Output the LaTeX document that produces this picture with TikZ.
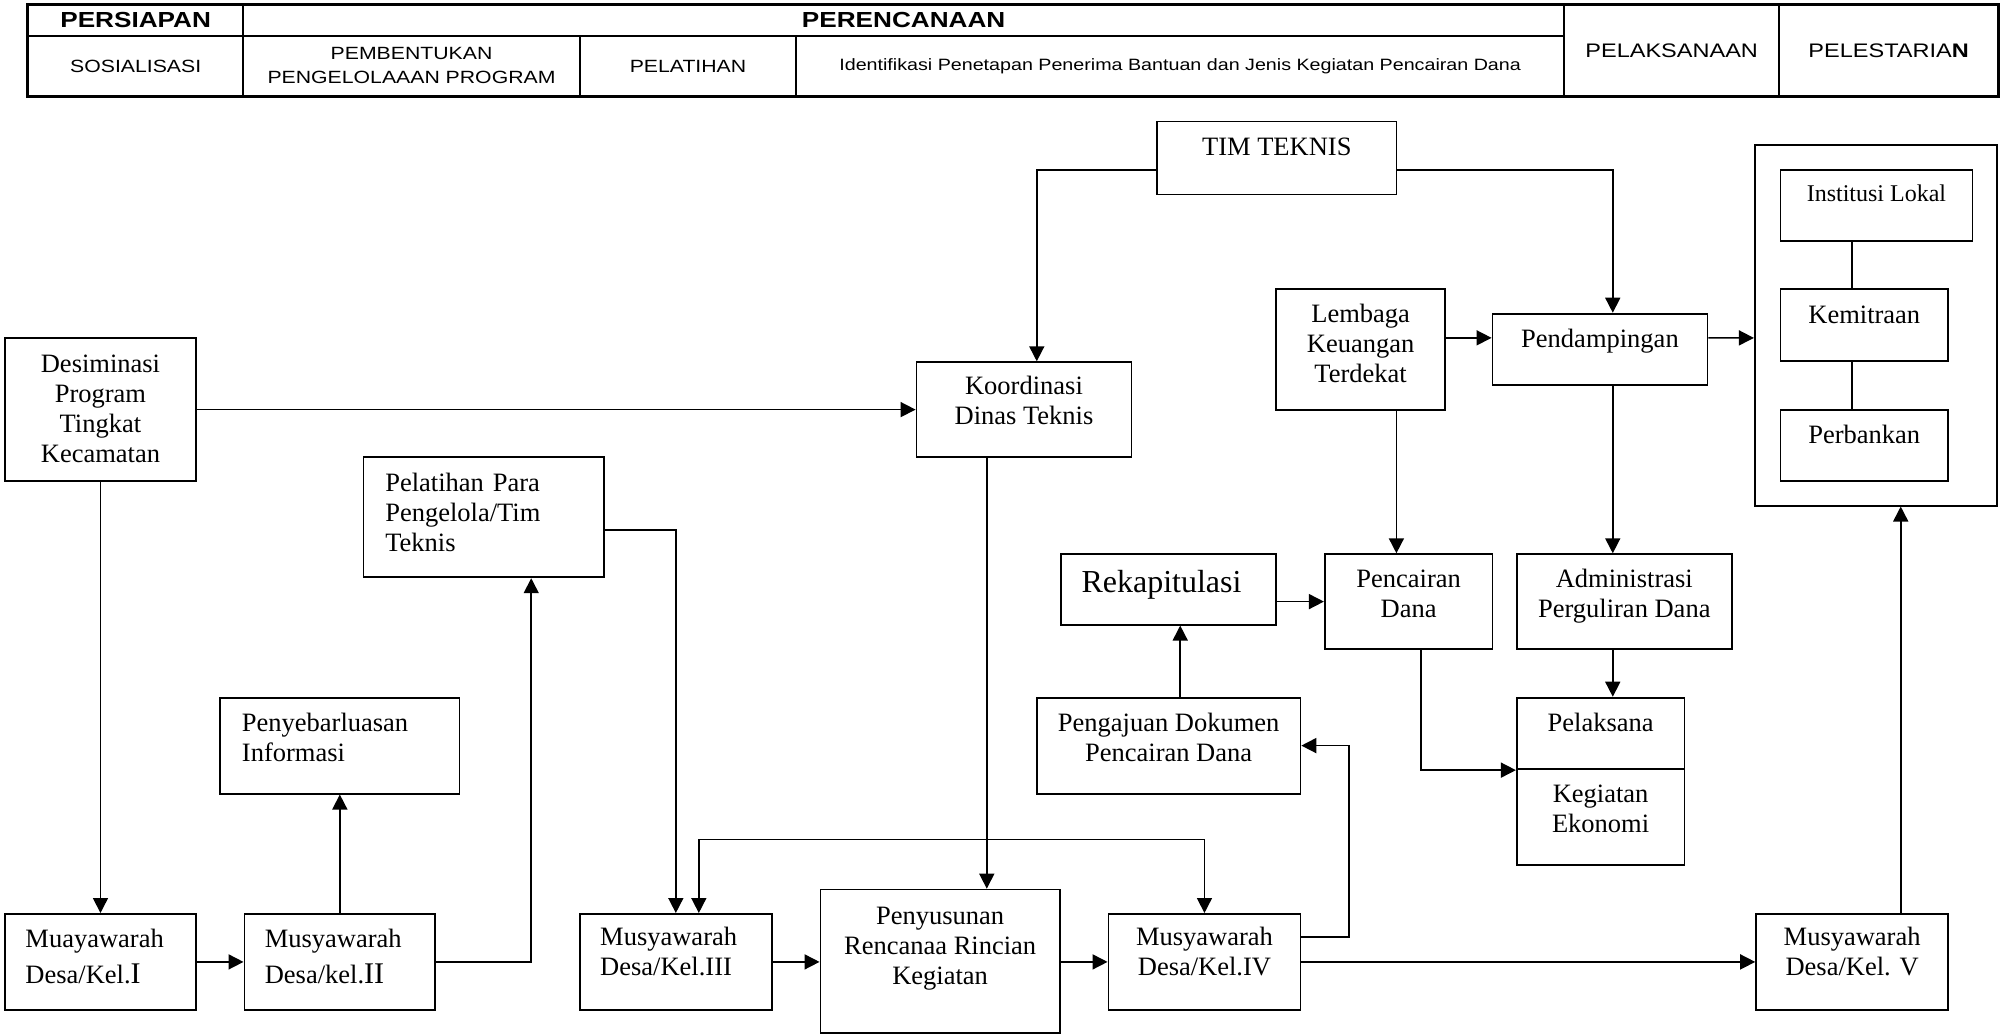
\documentclass[tikz,border=0pt]{standalone}
\usepackage{fontspec}
\setmainfont{Liberation Serif}
\newfontfamily\tabfont[FakeStretch=1.2]{Liberation Sans}
\usetikzlibrary{arrows.meta}

% text block inside a box, lifted by #1
\newcommand\txtc[2]{\raisebox{#1}[\height][\depth]{\begin{tabular}{@{}c@{}}#2\end{tabular}}}
\newcommand\txtl[2]{\raisebox{#1}[\height][\depth]{\begin{tabular}{@{}l@{}}#2\end{tabular}}}
\newcommand\bigrom[1]{{\fontsize{15}{15}\selectfont #1}}

\tikzset{
  box/.style={draw, line width=0.9pt, inner sep=0pt, font=\fontsize{13.25}{15}\selectfont},
  lbox/.style={box, align=left, inner xsep=10.2pt},
  cell/.style={draw, line width=0.9pt, inner sep=0pt, align=center, font=\tabfont\fontsize{8.85}{12}\selectfont},
  head/.style={cell, font=\tabfont\bfseries\fontsize{10.9}{12}\selectfont},
  link/.style={line width=0.8pt, ->},
}

\begin{document}
\begin{tikzpicture}[x=0.64pt, y=-0.64pt, >={Triangle[length=7.5pt,width=7.5pt]}]
   \useasboundingbox (0,0) rectangle (1568,809);

   % table of stages
   \node[head, minimum width=107.5pt, minimum height=15.4pt] (persiapan) at (106,16) {PERSIAPAN};
   \node[head, minimum width=660.5pt, minimum height=15.4pt] (perencanaan) at (706,16) {PERENCANAAN};
   \node[cell, minimum width=107.5pt, minimum height=30.1pt] (sosialisasi) at (106,51.5) {SOSIALISASI};
   \node[cell, minimum width=168.3pt, minimum height=30.1pt] (bentuk) at (321.5,51.5) {PEMBENTUKAN\\PENGELOLAAAN PROGRAM};
   \node[cell, minimum width=108.2pt, minimum height=30.1pt] (latihan) at (537.5,51.5) {PELATIHAN};
   \node[cell, minimum width=384pt, minimum height=30.1pt, font=\tabfont\fontsize{8.2}{10}\selectfont] (identifikasi) at (922,51.5) {Identifikasi Penetapan Penerima Bantuan dan Jenis Kegiatan Pencairan Dana};
   \node[cell, minimum width=107.5pt, minimum height=45.4pt, font=\tabfont\fontsize{9.8}{12}\selectfont] (laksana) at (1306,39.5) {PELAKSANAAN};
   \node[cell, minimum width=109.4pt, minimum height=45.4pt, font=\tabfont\fontsize{9.8}{12}\selectfont] (lestari) at (1475.5,39.5) {PELESTARIA{\bfseries N}};
   \draw[line width=1.2pt] (persiapan.north west) rectangle (lestari.south east);

   % boxes
   \node[box, minimum width=119.7pt, minimum height=36.5pt] (tim) at (997.5,123.5) {\txtc{4.5pt}{TIM TEKNIS}};
   \node[box, minimum width=121pt, minimum height=180.5pt] (wadah) at (1465.5,254) {};
   \node[box, minimum width=96pt, minimum height=35.2pt, font=\fontsize{12}{14}\selectfont] (lokal) at (1466,160.5) {\txtc{5pt}{Institusi Lokal}};
   \node[box, minimum width=83.8pt, minimum height=35.8pt] (mitra) at (1456.5,254) {\txtc{4pt}{Kemitraan}};
   \node[box, minimum width=83.8pt, minimum height=35.8pt] (bank) at (1456.5,348) {\txtc{4pt}{Perbankan}};
   \node[box, minimum width=84.5pt, minimum height=60.2pt] (lembaga) at (1063,273) {\txtc{1.5pt}{Lembaga\\Keuangan\\Terdekat}};
   \node[box, minimum width=107.5pt, minimum height=35.8pt] (damping) at (1250,273) {\txtc{4pt}{Pendampingan}};
   \node[box, minimum width=95.4pt, minimum height=71.7pt] (desim) at (78.5,320) {\txtc{-1pt}{Desiminasi\\Program\\Tingkat\\Kecamatan}};
   \node[box, minimum width=107.5pt, minimum height=47.4pt] (koord) at (800,320) {\txtc{3pt}{Koordinasi\\Dinas Teknis}};
   \node[lbox, text width=98.5pt, inner xsep=10.9pt, minimum height=60.2pt] (latih) at (378,404) {\txtl{1pt}{Pelatihan Para\\Pengelola/Tim\\Teknis}};
   \node[lbox, text width=87.1pt, minimum height=35.2pt, font=\fontsize{16}{18}\selectfont] (rekap) at (913,460.5) {\txtl{2pt}{Rekapitulasi}};
   \node[box, minimum width=83.8pt, minimum height=47.4pt] (cair) at (1100.5,470) {\txtc{2.8pt}{Pencairan\\Dana}};
   \node[box, minimum width=107.5pt, minimum height=47.4pt] (admin) at (1269,470) {\txtc{2.8pt}{Administrasi\\Perguliran Dana}};
   \node[lbox, text width=97.9pt, inner xsep=10.9pt, minimum height=48pt] (sebar) at (265.5,582.5) {\txtl{2.5pt}{Penyebarluasan\\Informasi}};
   \node[box, minimum width=131.8pt, minimum height=48pt] (ajuan) at (913,582.5) {\txtc{2.5pt}{Pengajuan Dokumen\\Pencairan Dana}};
   \node[box, minimum width=83.8pt, minimum height=35.8pt] (pelaksana) at (1250.5,573) {\txtc{4pt}{Pelaksana}};
   \node[box, minimum width=83.8pt, minimum height=48pt] (kegiatan) at (1250.5,638.5) {\txtc{3pt}{Kegiatan\\Ekonomi}};
   \node[lbox, text width=75pt, minimum height=48pt] (mus1) at (78.5,751.5) {\txtl{1pt}{Muayawarah\\[3pt]Desa/Kel.\bigrom{I}}};
   \node[lbox, text width=75pt, minimum height=48pt] (mus2) at (265.5,751.5) {\txtl{1pt}{Musyawarah\\[3pt]Desa/kel.\bigrom{II}}};
   \node[lbox, text width=75.6pt, minimum height=48pt] (mus3) at (528,751.5) {\txtl{3.5pt}{Musyawarah\\Desa/Kel.III}};
   \node[box, minimum width=119.7pt, minimum height=71.7pt] (susun) at (734.5,751) {\txtc{6.5pt}{Penyusunan\\Rencanaa Rincian\\Kegiatan}};
   \node[box, minimum width=96pt, minimum height=48pt] (mus4) at (941,751.5) {\txtc{3.5pt}{Musyawarah\\Desa/Kel.IV}};
   \node[box, minimum width=96pt, minimum height=48pt] (mus5) at (1447,751.5) {\txtc{3.5pt}{Musyawarah\\Desa/Kel. V}};

   % connectors
   \coordinate (vx) at ([xshift=6.4pt]damping.south);
   \coordinate (bus) at (700,656);
   \coordinate (m3) at ([xshift=11.5pt]mus3.north);
   \coordinate (kx) at ([xshift=-18.6pt]koord.south);
   \coordinate (m5) at ([xshift=24.3pt]mus5.north);
   \coordinate (aj) at ([xshift=5.8pt]ajuan.north);
   \coordinate (cx) at ([xshift=-6.1pt]cair.north);
   \coordinate (wx) at ([xshift=-6.1pt]mitra.north);
   \draw[link] ([yshift=-6.1pt]tim.west) -| ([xshift=6.4pt]koord.north);
   \draw[link] ([yshift=-6.1pt]tim.east) -| ([xshift=6.4pt]damping.north);
   \draw[link] ([yshift=5.8pt]lembaga.east) -- ([yshift=5.8pt]damping.west);
   \draw[link] ([yshift=5.8pt]damping.east) -- ([yshift=-6.4pt]wadah.west);
   \draw[line width=0.8pt] (wx |- lokal.south) -- (wx);
   \draw[line width=0.8pt] (wx |- mitra.south) -- (wx |- bank.north);
   \draw[link] (desim.east) -- (koord.west);
   \draw[link] (desim.south) -- (mus1.north);
   \draw[link] (mus1.east) -- (mus2.west);
   \draw[link] (mus2.north) -- (sebar.south);
   \draw[link] (mus2.east) -| ([xshift=23.7pt]latih.south);
   \draw[link] ([yshift=-6.4pt]latih.east) -| (mus3.north);
   \draw[link, <->] (m3) -- (m3 |- bus) -| (mus4.north);
   \draw[link] (kx) -- (kx |- susun.north);
   \draw[link] (mus3.east) -- (mus3.east -| susun.west);
   \draw[link] (susun.east |- mus4.west) -- (mus4.west);
   \draw[link] ([yshift=12.5pt]mus4.east) -- ++(23.7pt,0pt) |- (ajuan.east);
   \draw[link] (mus4.east) -- (mus5.west);
   \draw[link] (m5) -- (m5 |- wadah.south);
   \draw[link] (aj) -- (aj |- rekap.south);
   \draw[link] (rekap.east |- cair.west) -- (cair.west);
   \draw[link] (cx |- lembaga.south) -- (cx);
   \draw[link] ([xshift=6.1pt]cair.south) |- (pelaksana.south west);
   \draw[link] (vx) -- (vx |- admin.north);
   \draw[link] (vx |- admin.south) -- (vx |- pelaksana.north);
\end{tikzpicture}
\end{document}
